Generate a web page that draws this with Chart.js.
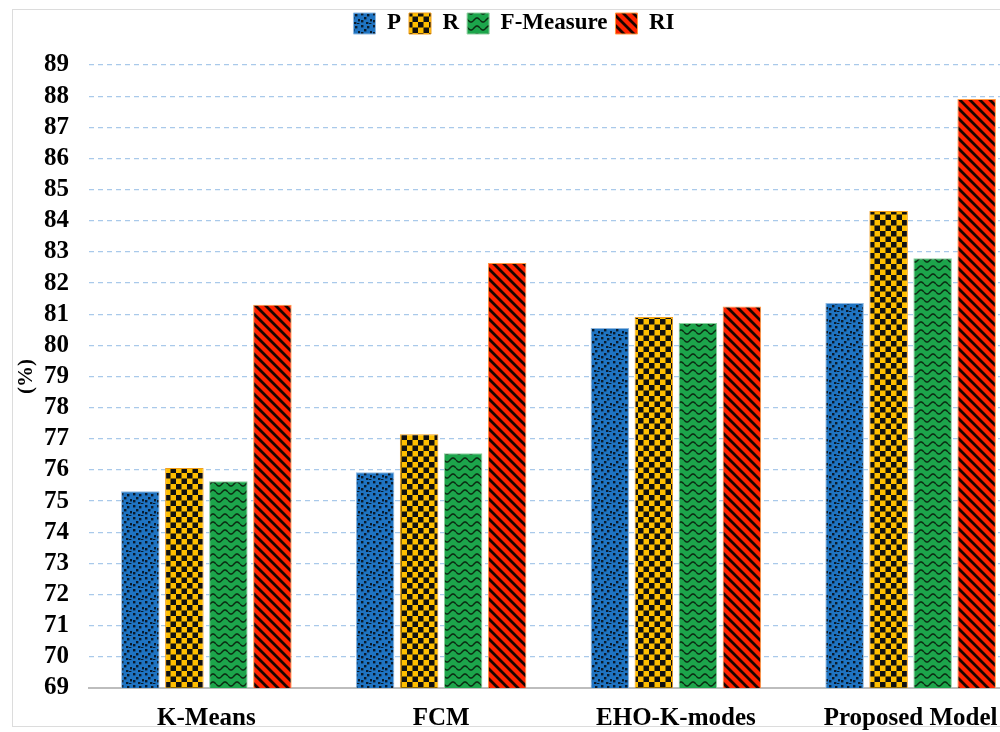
<!DOCTYPE html>
<html>
<head>
<meta charset="utf-8">
<script src="https://cdn.jsdelivr.net/npm/chart.js@4/dist/chart.umd.min.js"></script>
<style>
  html, body { margin: 0; padding: 0; background: #fff; overflow: hidden; }
  #wrap { width: 1030px; height: 732px; position: relative; }
</style>
</head>
<body>
<div id="wrap"><canvas id="c" width="1030" height="732"></canvas></div>
<script>
// Clustering methods compared
const categories = ['K-Means', 'FCM', 'EHO-K-modes', 'Proposed Model'];

// Scores (%) per metric
const precision = [75.32, 75.93, 80.56, 81.36];
const recall    = [76.06, 77.15, 80.91, 84.31];
const fMeasure  = [75.64, 76.54, 80.72, 82.80];
const randIndex = [81.30, 82.64, 81.25, 87.91];

const seriesNames = ['P', 'R', 'F-Measure', 'RI'];

const yMin = 69, yMax = 89, yStep = 1;

const serif = '"Liberation Serif", "Times New Roman", serif';

function tile(w, h, paint) {
  const t = document.createElement('canvas');
  t.width = w; t.height = h;
  const g = t.getContext('2d');
  paint(g, w, h);
  return document.getElementById('c').getContext('2d').createPattern(t, 'repeat');
}

// blue with scattered black specks
const dotFill = tile(12, 12, (g, w, h) => {
  g.fillStyle = '#1f74c2'; g.fillRect(0, 0, w, h);
  g.fillStyle = '#0a1a2a';
  [[1,1],[7,2],[4,5],[10,7],[1,8],[6,10],[9,11]].forEach(([x, y]) => g.fillRect(x, y, 2.4, 2.4));
});

// yellow/black checkerboard
const checkFill = tile(11, 11, (g, w, h) => {
  g.fillStyle = '#ffbf00'; g.fillRect(0, 0, w, h);
  g.fillStyle = '#111';
  g.fillRect(0, 0, 5.5, 5.5);
  g.fillRect(5.5, 5.5, 5.5, 5.5);
});

// green with black wavy lines
const waveFill = tile(12, 8, (g, w, h) => {
  g.fillStyle = '#1ca54b'; g.fillRect(0, 0, w, h);
  g.strokeStyle = '#0b2a12'; g.lineWidth = 1.5;
  g.beginPath();
  for (let x = 0; x <= w; x += 0.5) {
    const y = 4 + 2 * Math.sin((x / w) * Math.PI * 2);
    if (x === 0) g.moveTo(x, y); else g.lineTo(x, y);
  }
  g.stroke();
});

// red with black diagonal stripes
const stripeFill = tile(10, 10, (g, w, h) => {
  g.fillStyle = '#ff2400'; g.fillRect(0, 0, w, h);
  g.strokeStyle = '#1a0500'; g.lineWidth = 2.8; g.lineCap = 'square';
  g.beginPath();
  for (let k = -1; k <= 1; k++) {
    g.moveTo(k * w - 2, -2); g.lineTo(k * w + w + 2, h + 2);
  }
  g.stroke();
});

const fills = [dotFill, checkFill, waveFill, stripeFill];
const edges = ['#8fb8e0', '#f0a020', '#8fd0a0', '#ff9a40'];
const values = [precision, recall, fMeasure, randIndex];

// light outer frame around the chart
const framePlugin = {
  id: 'frame',
  beforeDraw(chart) {
    const g = chart.ctx;
    g.save();
    g.strokeStyle = '#dcdcdc'; g.lineWidth = 1;
    g.strokeRect(12.5, 9.5, 1100, 717);
    g.restore();
  }
};

// reserve a fixed band above the plot for the legend
const legendBand = {
  id: 'legendBand',
  beforeInit(chart) {
    const lg = chart.legend;
    const fit = lg.fit.bind(lg);
    lg.fit = function () { fit(); this.height = 61; };
  }
};

new Chart(document.getElementById('c'), {
  type: 'bar',
  data: {
    labels: categories,
    datasets: seriesNames.map((name, i) => ({
      label: name,
      data: values[i],
      backgroundColor: fills[i],
      borderColor: edges[i],
      borderWidth: 1,
      categoryPercentage: 0.75,
      barPercentage: 0.875
    }))
  },
  options: {
    responsive: false,
    animation: false,
    layout: { padding: { top: 4, right: 2, left: 0, bottom: 0 } },
    plugins: {
      legend: {
        position: 'top',
        labels: {
          boxWidth: 22, boxHeight: 21, padding: 8,
          color: '#000',
          font: { family: serif, size: 23, weight: 'bold' }
        }
      },
      tooltip: { enabled: false }
    },
    scales: {
      x: {
        grid: { display: false },
        border: { display: true, color: '#bdbdbd', width: 2 },
        ticks: { color: '#000', padding: 8, font: { family: serif, size: 25, weight: 'bold' } },
        afterFit(s) { s.height = 44; }
      },
      y: {
        min: yMin, max: yMax,
        ticks: { stepSize: yStep, autoSkip: false, color: '#000', padding: 20, font: { family: serif, size: 25, weight: 'bold' } },
        grid: {
          color: ctx => ctx.tick && ctx.tick.value === yMin ? 'rgba(0,0,0,0)' : '#a9c9ea',
          lineWidth: 1.2,
          drawTicks: false
        },
        border: { display: false, dash: [5, 4] },
        title: { display: true, text: '(%)', color: '#000', padding: { top: 14, bottom: 0 }, font: { family: serif, size: 21, weight: 'bold' } },
        afterFit(s) { s.width = 89; }
      }
    }
  },
  plugins: [framePlugin, legendBand]
});
</script>
</body>
</html>
